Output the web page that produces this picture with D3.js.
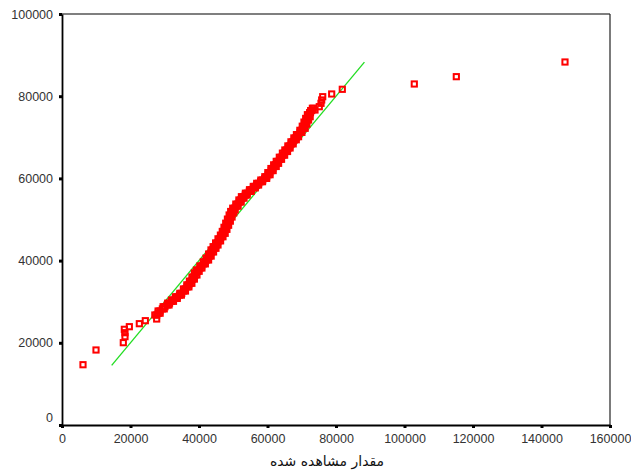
<!DOCTYPE html>
<html>
<head>
<meta charset="utf-8">
<script src="https://cdn.jsdelivr.net/npm/d3@7"></script>
<style>
  body { margin: 0; background: #fff; }
  text { font-family: "Liberation Sans", Arial, sans-serif; }
</style>
</head>
<body>
<div id="container"></div>
<script>
var width = 631,
    height = 472;

// observed value (x) / expected normal value (y), read off the plot
// sparse low tail
var lowObserved = [6130, 9930, 17900, 18390, 18390, 18200, 19660, 22580, 24330, 27640];
var lowExpected = [14670, 18250, 20030, 21490, 22460, 23280, 23920, 24650, 25380, 25790];

// dense band: middle of the band, then its left/right edges
var bandObserved = [
  27650, 28100, 28610, 29300, 30070, 30700, 31400, 32000, 32500, 33100,
  33700, 34300, 34950, 35500, 36000, 36500, 37000, 37370, 37750, 38100,
  38500, 38850, 39200, 39500, 39800, 40300, 40800, 41300, 41800, 42250,
  42600, 43000, 43350, 43700, 44050, 44400, 44670, 45000, 45400, 45750,
  46100, 46450, 46800, 47100, 47350, 47600, 47850, 48100, 48350, 48600,
  48850, 49100, 49350, 49600, 49800, 50010, 50400, 50850, 51300, 51750,
  52200, 52600, 52930, 53500, 54100, 54700, 55300, 55900, 56400, 56850,
  57400, 58000, 58600, 59200, 59770, 60200, 60650, 61100, 61550, 62000,
  62350, 62690, 63100, 63550, 64000, 64450, 64900, 65300, 65610, 66050,
  66500, 66950, 67400, 67850, 68250, 68530, 69000, 69500, 70000, 70450,
  70700, 70950, 71200, 71450, 71700, 71910, 72200, 72550, 72900, 73370
];
var bandEdgeObserved = [
  27100, 28650, 28060, 29850, 29520, 31250, 30850, 32550, 31950, 33650,
  33150, 34850, 34400, 36050, 35450, 37050, 36450, 37920, 37200, 38650,
  37950, 39400, 38650, 40050, 39250, 40850, 40250, 41850, 41250, 42800,
  42050, 43550, 42800, 44250, 43500, 44950, 44120, 45550, 44850, 46300,
  45550, 47000, 46250, 47650, 46800, 48150, 47300, 48650, 47800, 49150,
  48300, 49650, 48800, 50150, 49250, 50560, 49850, 51400, 50750, 52300,
  51650, 53150, 52380, 54050, 53550, 55250, 54750, 56450, 55850, 57400,
  56850, 58550, 58050, 59750, 59220, 60750, 60100, 61650, 61000, 62550,
  61800, 63240, 62550, 64100, 63450, 65000, 64350, 65850, 65060, 66600,
  65950, 67500, 66850, 68400, 67700, 69080, 68450, 70050, 69450, 71000,
  70150, 71500, 70650, 72000, 71150, 72460, 71650, 72300, 72600, 73100
];
var bandExpected = [
  26760, 27200, 27740, 28250, 28780, 29200, 29650, 30100, 30410, 30800,
  31200, 31600, 32040, 32600, 33100, 33600, 34100, 34480, 35000, 35500,
  36000, 36500, 37000, 37400, 37710, 38200, 38700, 39200, 39700, 40150,
  40600, 41100, 41600, 42100, 42600, 43000, 43380, 43800, 44300, 44800,
  45300, 45800, 46200, 46640, 47100, 47600, 48100, 48600, 49100, 49600,
  50100, 50600, 51100, 51600, 51950, 52310, 52750, 53250, 53750, 54250,
  54750, 55200, 55550, 55950, 56400, 56850, 57250, 57700, 58050, 58390,
  58800, 59200, 59600, 60000, 60410, 60900, 61400, 61900, 62400, 62900,
  63300, 63670, 64150, 64650, 65150, 65650, 66150, 66550, 66910, 67400,
  67900, 68400, 68900, 69400, 69850, 70150, 70650, 71200, 71700, 72190,
  72700, 73200, 73700, 74200, 74600, 75010, 75500, 76000, 76500, 77060
];

// sparse high tail
var highObserved = [73870, 75120, 75620, 75820, 76120, 78740, 81840, 102860, 115130, 146860];
var highExpected = [76640, 77450, 78270, 79080, 79880, 80540, 81680, 82970, 84750, 88320];

// reference line y = x
var lineStart = 14500,
    lineEnd = 88300;

var xTicks = [0, 20000, 40000, 60000, 80000, 100000, 120000, 140000, 160000];
var yTicks = [0, 20000, 40000, 60000, 80000, 100000];
var xTitle = "مقدار مشاهده شده";

function pairs(xs, ys) {
  return xs.map(function(d, i) { return [d, ys[i]]; });
}
var points = pairs(lowObserved, lowExpected)
    .concat(pairs(bandObserved, bandExpected))
    .concat(pairs(bandEdgeObserved, bandExpected))
    .concat(pairs(highObserved, highExpected));

var svg = d3.select('#container').append('svg')
    .attr("width", width)
    .attr("height", height);

var x = d3.scaleLinear().domain([0, 160000]).range([62, 610]);
var y = d3.scaleLinear().domain([0, 100000]).range([425, 14]);

// frame
svg.append('line')
    .attr('x1', x(0)).attr('x2', x(160000))
    .attr('y1', y(100000)).attr('y2', y(100000))
    .style('stroke', '#000').style('stroke-width', '1.2px');
svg.append('line')
    .attr('x1', x(160000)).attr('x2', x(160000))
    .attr('y1', y(100000)).attr('y2', y(0))
    .style('stroke', '#222').style('stroke-width', '1.2px');

var xAxis = svg.append('g')
    .attr('transform', 'translate(0,' + y(0) + ')')
    .call(d3.axisBottom(x).tickValues(xTicks).tickSize(3).tickSizeOuter(0).tickPadding(6)
      .tickFormat(d3.format('d')));
var yAxis = svg.append('g')
    .attr('transform', 'translate(' + x(0) + ',0)')
    .call(d3.axisLeft(y).tickValues(yTicks).tickSize(3).tickSizeOuter(0).tickPadding(6)
      .tickFormat(d3.format('d')));

[xAxis, yAxis].forEach(function(g) {
  g.select('.domain').style('stroke', '#000').style('stroke-width', '1.8px');
  g.selectAll('.tick line').style('stroke', '#000').style('stroke-width', '3px');
  g.selectAll('.tick text')
      .style('font-size', '12.5px')
      .style('fill', '#333')
      .style('font-family', '"Liberation Sans", Arial, sans-serif');
});
// SPSS puts the 0 label a bit above the corner
yAxis.selectAll('.tick text').filter(function(d) { return d === 0; })
    .attr('y', -8);

// reference line (under the points)
svg.append('line')
    .attr('x1', x(lineStart)).attr('y1', y(lineStart))
    .attr('x2', x(lineEnd)).attr('y2', y(lineEnd))
    .style('stroke', '#22dd22')
    .style('stroke-width', '1.3px');

// points
svg.append('g')
  .selectAll('rect')
  .data(points)
  .enter()
  .append('rect')
    .attr('x', function(d) { return x(d[0]) - 2.6; })
    .attr('y', function(d) { return y(d[1]) - 2.6; })
    .attr('width', 5.2)
    .attr('height', 5.2)
    .style('fill', 'none')
    .style('stroke', '#ff0000')
    .style('stroke-width', '2px');

svg.append('text')
    .attr('x', 327)
    .attr('y', 466)
    .attr('text-anchor', 'middle')
    .style('font-family', '"DejaVu Sans", sans-serif')
    .style('font-size', '14px')
    .style('fill', '#111')
    .text(xTitle);
</script>
</body>
</html>
